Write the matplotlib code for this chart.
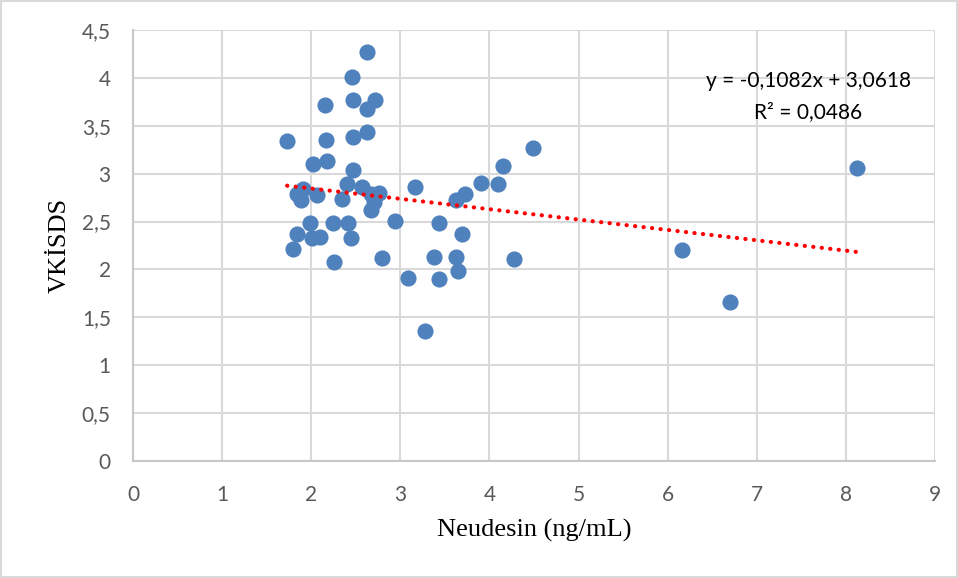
import matplotlib.pyplot as plt
from matplotlib.patches import Rectangle
from matplotlib.ticker import FuncFormatter
import numpy as np

# Neudesin (ng/mL) vs VKİSDS
neudesin = [2.63, 2.46, 2.15, 2.47, 2.72, 2.63, 1.73, 2.17, 2.47, 2.63,
            2.02, 2.18, 2.47, 4.15, 3.17, 2.40, 2.57, 1.91, 1.84, 1.89,
            2.07, 2.35, 2.67, 2.76, 2.71, 2.67, 3.91, 4.10, 3.63, 3.73,
            2.94, 3.43, 1.99, 2.24, 2.41, 1.84, 2.01, 2.10, 2.45, 3.69,
            1.80, 2.26, 2.79, 3.38, 3.63, 3.65, 4.27, 3.09, 3.43, 3.28,
            4.49, 6.16, 6.70, 8.13]
vkisds = [4.27, 4.01, 3.72, 3.77, 3.77, 3.68, 3.34, 3.35, 3.38, 3.43,
          3.10, 3.13, 3.04, 3.08, 2.86, 2.89, 2.86, 2.84, 2.79, 2.72,
          2.78, 2.74, 2.79, 2.80, 2.70, 2.62, 2.90, 2.89, 2.72, 2.79,
          2.51, 2.48, 2.49, 2.48, 2.48, 2.37, 2.33, 2.34, 2.33, 2.37,
          2.21, 2.08, 2.12, 2.13, 2.13, 1.98, 2.11, 1.91, 1.90, 1.36,
          3.27, 2.20, 1.66, 3.06]

# trend line as reported on the chart
slope = -0.1082
intercept = 3.0618
r_squared = 0.0486

x_ticks = [0, 1, 2, 3, 4, 5, 6, 7, 8, 9]
y_ticks = [0, 0.5, 1, 1.5, 2, 2.5, 3, 3.5, 4, 4.5]

GRID = "#D9D9D9"
TICK_COLOR = "#595959"
BLUE = "#4F81BD"


def comma(v, pos=None):
    s = ("%g" % v)
    return s.replace(".", ",")


fig = plt.figure(figsize=(9.58, 5.78), dpi=100)
ax = fig.add_axes([133 / 958, 1 - 461 / 578, (935 - 133) / 958, (461 - 30) / 578])

ax.scatter(neudesin, vkisds, s=135, color=BLUE, zorder=3, linewidths=0)

tx = np.array([min(neudesin), max(neudesin)])
ax.plot(tx, slope * tx + intercept, color="#FF0000", lw=3.0,
        linestyle=(0, (0.05, 2.0)), dash_capstyle="round", zorder=4)

ax.set_xlim(0, 9)
ax.set_ylim(0, 4.5)
ax.set_xticks(x_ticks)
ax.set_yticks(y_ticks)
ax.yaxis.set_major_formatter(FuncFormatter(comma))
ax.xaxis.set_major_formatter(FuncFormatter(comma))
ax.grid(True, color=GRID, lw=1.5, zorder=0)
ax.set_axisbelow(True)
for side in ["top", "right"]:
    ax.spines[side].set_visible(False)
for side in ["left", "bottom"]:
    ax.spines[side].set_color("#C8C8C8")
    ax.spines[side].set_linewidth(1.5)
ax.tick_params(axis="x", length=0, labelsize=15, colors=TICK_COLOR, pad=17)
ax.tick_params(axis="y", length=0, labelsize=15, colors=TICK_COLOR, pad=16)
for lab in ax.get_xticklabels() + ax.get_yticklabels():
    lab.set_fontfamily("Lato")

ax.set_xlabel("Neudesin (ng/mL)", fontsize=19, family="Liberation Serif",
              color="black", labelpad=10)
ax.set_ylabel("VKİSDS", fontsize=19, family="Liberation Serif",
              color="black", labelpad=8)

eq = "y = %sx + %s" % (comma(slope), comma(intercept))
ax.text(808 / 958, 1 - 81 / 578, eq, transform=fig.transFigure,
        ha="center", va="center", fontsize=15, family="Lato", color="black")
ax.text(808 / 958, 1 - 112 / 578, "R² = " + comma(r_squared),
        transform=fig.transFigure, ha="center", va="center",
        fontsize=15, family="Lato", color="black")

fig.patches.append(Rectangle((1 / 958, 1 / 578), 956 / 958, 576 / 578,
                             transform=fig.transFigure, fill=False,
                             edgecolor="#D9D9D9", lw=1.5))

fig.savefig("out.png", dpi=100)
